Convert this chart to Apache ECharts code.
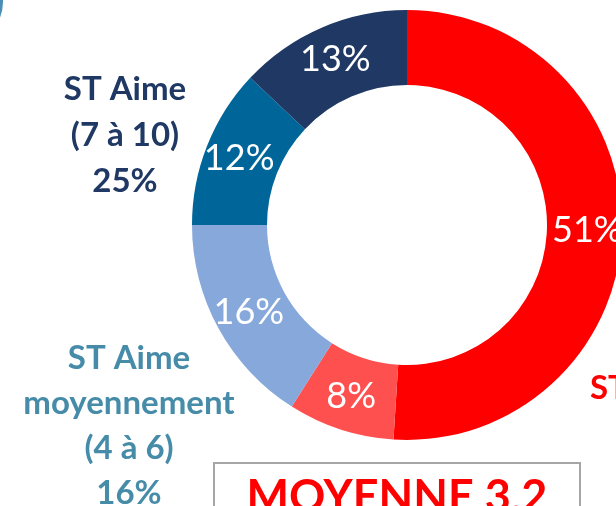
<!DOCTYPE html>
<html>
<head>
<meta charset="utf-8">
<script src="https://cdn.jsdelivr.net/npm/echarts@6/dist/echarts.min.js"></script>
<style>html,body{margin:0;padding:0;background:#fff;}#c{width:616px;height:506px;}</style>
</head>
<body>
<div id="c"></div>
<script>
const categories = ['ST Aime beaucoup', 'ST N\'aime pas (1 à 3) b', 'ST Aime moyennement (4 à 6)', 'ST Aime (7 à 8)', 'ST Aime (9 à 10)'];
const values = [51, 8, 16, 12, 13];
const colors = ['#FF0000', '#FF5050', '#86A8DB', '#006699', '#1F3864'];
const labelTop = ['ST Aime', '(7 à 10)', '25%'];
const labelMid = ['ST Aime', 'moyennement', '(4 à 6)', '16%'];
const labelRight = ['ST'];
const boxText = 'MOYENNE 3,2';

const chart = echarts.init(document.getElementById('c'));
const font = 'Lato, "Open Sans", sans-serif';
chart.setOption({
  animation: false,
  backgroundColor: '#fff',
  series: [{
    type: 'pie',
    center: [407, 225],
    radius: [140, 215],
    startAngle: 90,
    clockwise: true,
    data: categories.map((n, i) => ({ name: n, value: values[i], itemStyle: { color: colors[i] } })),
    label: {
      show: true, position: 'inside', formatter: '{c}%',
      color: '#fff', fontSize: 36, fontFamily: font, fontWeight: 'normal'
    },
    labelLine: { show: false },
    emphasis: { disabled: true },
    itemStyle: { borderWidth: 0 }
  }],
  graphic: [
    { type: 'circle', shape: { cx: -40, cy: 2, r: 43 }, style: { fill: '#4A8FB5' } },
    { type: 'text', x: 125, y: 135, style: { text: labelTop.join('\n'), fill: '#1F3864', font: 'bold 33px ' + font, lineHeight: 46, align: 'center', verticalAlign: 'middle' } },
    { type: 'text', x: 129, y: 426, style: { text: labelMid.join('\n'), fill: '#468CA8', font: 'bold 33px ' + font, lineHeight: 45, align: 'center', verticalAlign: 'middle' } },
    { type: 'text', x: 590, y: 388, style: { text: labelRight.join('\n'), fill: '#FF0000', font: 'bold 33px ' + font, align: 'left', verticalAlign: 'middle' } },
    { type: 'rect', shape: { x: 214, y: 463, width: 366, height: 80 }, style: { fill: '#fff', stroke: '#A6A6A6', lineWidth: 2 } },
    { type: 'text', x: 397, y: 497, style: { text: boxText, fill: '#FF0000', font: 'bold 45px ' + font, align: 'center', verticalAlign: 'middle' } }
  ]
});
</script>
</body>
</html>
